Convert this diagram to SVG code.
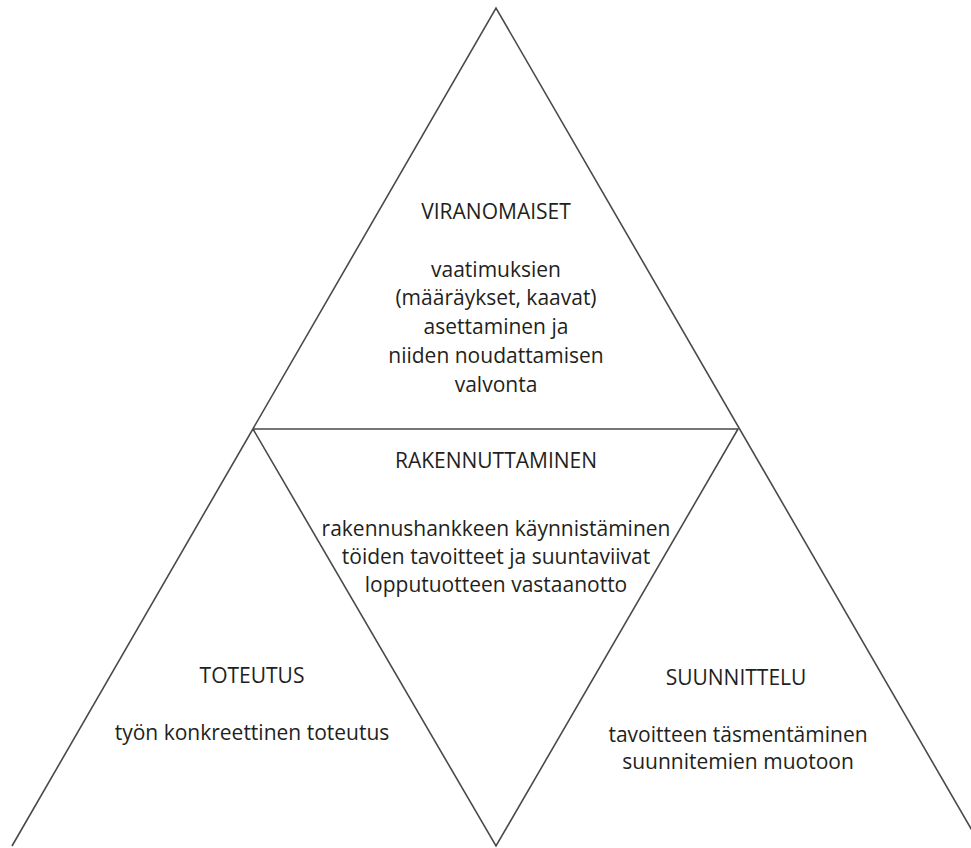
<svg xmlns="http://www.w3.org/2000/svg" width="971" height="848" viewBox="0 0 971 848">
<style>
.ln{fill:none;stroke:#4a4a4a;stroke-width:1.6;stroke-linejoin:miter}
text{font-family:"Open Sans","Noto Sans",sans-serif;font-size:21px;fill:#231f20;text-anchor:middle}
</style>
<rect width="971" height="848" fill="#fff"/>
<g id="connectors">
<polyline class="ln" points="12,846 496,8 981,846"/>
<polyline class="ln" points="253,429 738,429 496,846 253,429"/>
</g>
<g id="viranomaiset">
<text x="496" y="219">VIRANOMAISET</text>
<text x="496" y="277">vaatimuksien</text>
<text x="496" y="305">(määräykset, kaavat)</text>
<text x="496" y="334">asettaminen ja</text>
<text x="496" y="363">niiden noudattamisen</text>
<text x="496" y="392">valvonta</text>
</g>
<g id="rakennuttaminen">
<text x="496" y="468">RAKENNUTTAMINEN</text>
<text x="496" y="536">rakennushankkeen käynnistäminen</text>
<text x="496" y="564">töiden tavoitteet ja suuntaviivat</text>
<text x="496" y="592">lopputuotteen vastaanotto</text>
</g>
<g id="toteutus">
<text x="252" y="683">TOTEUTUS</text>
<text x="252" y="740">työn konkreettinen toteutus</text>
</g>
<g id="suunnittelu">
<text x="736" y="685">SUUNNITTELU</text>
<text x="738" y="742">tavoitteen täsmentäminen</text>
<text x="738" y="769">suunnitemien muotoon</text>
</g>
</svg>
